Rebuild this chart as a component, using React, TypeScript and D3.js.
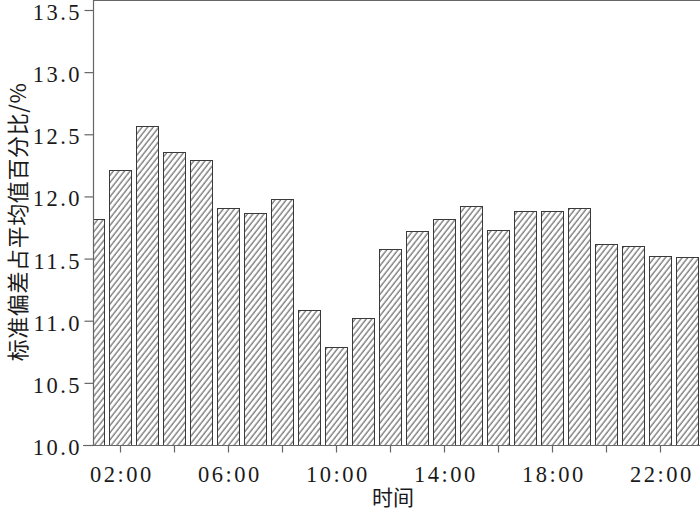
import React, { useEffect, useRef } from "react";
import * as d3 from "d3";

// hourly values (01:00 .. 23:00)
const hours = [1, 2, 3, 4, 5, 6, 7, 8, 9, 10, 11, 12, 13, 14, 15, 16, 17, 18, 19, 20, 21, 22, 23];
const values = [
  11.82, 12.21, 12.57, 12.36, 12.29, 11.91, 11.87, 11.98, 11.09, 10.79, 11.02, 11.58,
  11.72, 11.82, 11.92, 11.73, 11.88, 11.88, 11.91, 11.62, 11.60, 11.52, 11.51,
];
const yTicks = [10.0, 10.5, 11.0, 11.5, 12.0, 12.5, 13.0, 13.5];
const xTicks = [2, 4, 6, 8, 10, 12, 14, 16, 18, 20, 22];
const xLabels: Record<number, string> = { 2: "02:00", 6: "06:00", 10: "10:00", 14: "14:00", 18: "18:00", 22: "22:00" };
const yTitle = "标准偏差占平均值百分比/%";
const xTitle = "时间";

const App = () => {
  const ref = useRef<SVGSVGElement>(null);

  useEffect(() => {
    const root = d3.select(ref.current);
    root.selectAll("*").remove();

    const W = 700;
    const H = 511;
    const left = 93;
    const top = 10;
    const bottom = 445;
    const right = 700;

    const serif = "'Liberation Serif', 'DejaVu Serif', serif";
    const cjk = "'Noto Sans CJK SC', sans-serif";
    const axisColor = "#666";
    const textColor = "#1a1a1a";

    root.attr("width", W).attr("height", H);

    // hatch pattern + clip to plot area
    const defs = root.append("defs");
    const pat = defs
      .append("pattern")
      .attr("id", "hatch")
      .attr("patternUnits", "userSpaceOnUse")
      .attr("width", 4.4)
      .attr("height", 10)
      .attr("patternTransform", "rotate(38)");
    pat.append("rect").attr("width", 4.4).attr("height", 10).attr("fill", "#fff");
    pat
      .append("line")
      .attr("x1", 1)
      .attr("y1", 0)
      .attr("x2", 1)
      .attr("y2", 10)
      .attr("stroke", "#4a4a4a")
      .attr("stroke-width", 1);

    defs
      .append("clipPath")
      .attr("id", "plotClip")
      .append("rect")
      .attr("x", left)
      .attr("y", 0)
      .attr("width", right - left)
      .attr("height", bottom);

    // scales
    const x = d3.scaleLinear().domain([1, 23.5]).range([left, 700.5]);
    const y = d3.scaleLinear().domain([10, 13.5]).range([bottom, top]);
    const bw = 22;

    // bars
    root
      .append("g")
      .attr("clip-path", "url(#plotClip)")
      .selectAll("rect")
      .data(hours.map((h, i) => ({ h, v: values[i] })))
      .enter()
      .append("rect")
      .attr("x", d => x(d.h) - bw / 2 + 0.5)
      .attr("y", d => Math.round(y(d.v)) + 0.5)
      .attr("width", bw)
      .attr("height", d => bottom - Math.round(y(d.v)))
      .attr("fill", "url(#hatch)")
      .attr("stroke", "#3a3a3a")
      .attr("stroke-width", 1);

    // top frame line
    root
      .append("line")
      .attr("x1", left)
      .attr("x2", right)
      .attr("y1", 0.5)
      .attr("y2", 0.5)
      .attr("stroke", axisColor)
      .attr("stroke-width", 1.2);

    // y axis
    const yAxis = root
      .append("g")
      .attr("transform", `translate(${left + 0.5},0)`)
      .call(d3.axisLeft(y).tickValues(yTicks).tickSize(9).tickPadding(5).tickFormat(d3.format(".1f")));
    yAxis.select(".domain").attr("stroke", axisColor).attr("stroke-width", 1.2).attr("d", `M0,0V${bottom}`);
    yAxis.selectAll(".tick line").attr("stroke", axisColor).attr("stroke-width", 1.2);
    yAxis
      .selectAll(".tick text")
      .attr("fill", textColor)
      .attr("font-family", serif)
      .attr("font-size", 22.5)
      .attr("letter-spacing", 2.5)
      .attr("dx", 2.5)
      .attr("dy", "0.42em");

    // x axis
    const xAxis = root
      .append("g")
      .attr("transform", `translate(0,${bottom + 0.5})`)
      .call(
        d3
          .axisBottom(x)
          .tickValues(xTicks)
          .tickSize(7)
          .tickPadding(14)
          .tickFormat(d => xLabels[d as number] || "")
      );
    xAxis.select(".domain").attr("stroke", axisColor).attr("stroke-width", 1.2).attr("d", `M${left - 10},0H${right}`);
    xAxis.selectAll(".tick line").attr("stroke", axisColor).attr("stroke-width", 1.2);
    xAxis
      .selectAll(".tick text")
      .attr("fill", textColor)
      .attr("font-family", serif)
      .attr("font-size", 22.5)
      .attr("letter-spacing", 2.5)
      .attr("dx", 1.25);

    // axis titles
    root
      .append("text")
      .attr("transform", `translate(26,222) rotate(-90)`)
      .attr("text-anchor", "middle")
      .attr("font-family", cjk)
      .attr("font-size", 22)
      .attr("letter-spacing", 0.6)
      .attr("fill", textColor)
      .text(yTitle);

    root
      .append("text")
      .attr("x", 393)
      .attr("y", 505)
      .attr("text-anchor", "middle")
      .attr("font-family", cjk)
      .attr("font-size", 21)
      .attr("fill", textColor)
      .text(xTitle);
  }, []);

  return (
    <div style={{ position: "absolute", left: 0, top: 0 }}>
      <svg ref={ref}></svg>
    </div>
  );
};

export default App;
